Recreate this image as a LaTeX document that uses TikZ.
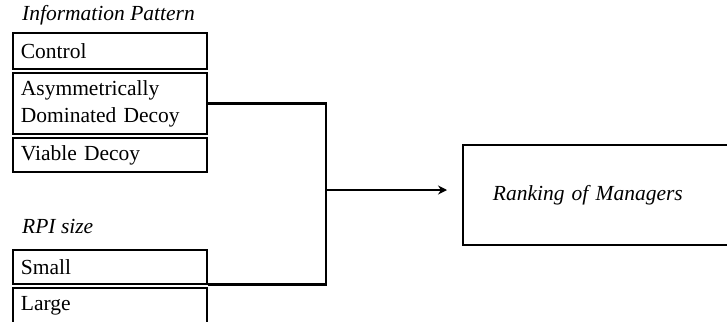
\documentclass[tikz,border=0pt]{standalone}
\usepackage{fontspec}
\setmainfont{Liberation Serif}
\usetikzlibrary{arrows.meta}
\begin{document}
\begin{tikzpicture}[x=1pt,y=-1pt,
  box/.style={draw, line width=1.8pt, anchor=north west, minimum width=194pt,
    text width=178pt, align=left, inner xsep=8pt, inner ysep=0pt,
    font=\fontsize{21.5}{27}\selectfont},
  head/.style={anchor=base west, inner sep=0pt, font=\fontsize{21.5}{27}\selectfont\itshape},
  conn/.style={line width=2.8pt}]
\useasboundingbox (0,0) rectangle (727,321);
\clip (0,0) rectangle (727,321);
\node[head] (ip) at (22,21) {Information Pattern};
\node[box, minimum height=36pt] (control) at (12,32) {Control};
\node[box, minimum height=61pt] (asym) at (12,72) {Asymmetrically\\Dominated Decoy};
\node[box, minimum height=34pt] (viable) at (12,137) {Viable Decoy};
\node[head] (rpi) at (22,233) {RPI size};
\node[box, minimum height=34pt] (small) at (12,249) {Small};
\node[box, minimum height=36pt] (large) at (12,287) {Large};
\node[draw, line width=1.8pt, anchor=north west, minimum width=290pt, minimum height=100pt,
  text width=250pt, align=left, inner xsep=30pt, font=\fontsize{21.5}{27}\selectfont\itshape]
  (rank) at (462,144) {Ranking of Managers};
\coordinate (jx) at (326,190);
\draw[conn] (asym.east) -| (jx |- small.south east) -- (small.south east);
\draw[conn, -{Stealth[length=9pt,width=9pt]}] (jx) -- ([xshift=-15pt]rank.west |- jx);
\end{tikzpicture}
\end{document}
